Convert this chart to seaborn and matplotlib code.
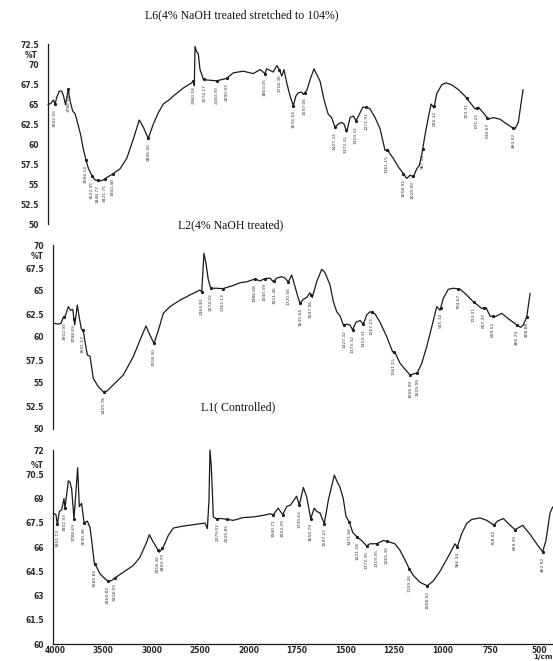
import numpy as np
import matplotlib
matplotlib.use("Agg")
import matplotlib.pyplot as plt
from matplotlib.ticker import MultipleLocator
import seaborn as sns

# ---------------- data (wavenumber 1/cm, %T) ----------------
l6_wn = [4017, 3985, 3958, 3941, 3920, 3895, 3869, 3851, 3827, 3797, 3778, 3749, 3724, 3688,
         3662, 3634, 3605, 3580, 3543, 3507, 3452, 3417, 3380, 3308, 3235, 3162, 3091, 3026,
         2982, 2928, 2873, 2819, 2765, 2692, 2656, 2547, 2456, 2439, 2428, 2420, 2402, 2385,
         2366, 2330, 2293, 2185, 2076, 2004, 1948, 1894, 1857, 1830, 1821, 1803, 1785, 1766,
         1752, 1739, 1727, 1712, 1694, 1676, 1662, 1649, 1631, 1622, 1603, 1585, 1564, 1549,
         1531, 1509, 1493, 1486, 1468, 1450, 1432, 1413, 1401, 1386, 1368, 1350, 1336, 1318,
         1299, 1278, 1260, 1232, 1205, 1178, 1160, 1155, 1133, 1106, 1079, 1060, 1042, 1024,
         1006, 992, 979, 961, 943, 928, 912, 897, 870, 847, 816, 780, 744, 717, 689, 671, 644,
         617, 590, 554, 517, 490, 472, 454, 436, 428]
l6_t = [64.9, 65.1, 65.5, 65.0, 65.9, 66.6, 66.6, 66.1, 64.9, 66.9, 65.4, 64.1, 63.8, 62.3,
        61.1, 59.4, 58.0, 57.0, 56.1, 55.5, 55.4, 55.5, 55.8, 56.3, 56.9, 58.2, 60.6, 63.0,
        62.1, 60.7, 62.5, 63.9, 65.0, 65.6, 66.0, 67.0, 67.65, 67.9, 67.3, 72.2, 71.5, 71.3,
        69.3, 68.1, 68.0, 67.9, 68.2, 68.9, 69.1, 68.8, 69.3, 68.8, 69.4, 69.2, 69.0, 69.8,
        69.3, 68.5, 69.3, 67.65, 66.0, 64.8, 66.0, 66.4, 66.5, 66.2, 66.7, 68.05, 69.4, 68.7,
        67.85, 65.5, 64.2, 63.7, 63.3, 62.1, 62.5, 62.7, 62.5, 61.5, 63.3, 63.5, 62.9, 63.7,
        64.6, 64.6, 64.4, 63.3, 61.9, 59.2, 59.3, 58.9, 58.2, 57.15, 56.3, 55.7, 56.1, 55.9,
        56.9, 57.3, 58.6, 61.1, 63.3, 65.0, 64.5, 66.3, 67.4, 67.65, 67.4, 66.8, 66.0, 65.2,
        64.4, 64.6, 63.9, 63.1, 63.3, 63.1, 62.5, 62.1, 61.9, 62.7, 65.6, 66.8]
l6_pk_wn = [3941, 3797, 3605, 3540, 3475, 3400, 3310, 2928, 2439, 2320, 2185, 2076, 1830, 1752,
            1676, 1613, 1450, 1390, 1336, 1280, 1169, 1078, 1028, 973, 910, 734, 680, 622, 481]
l6_pk_lbl = ["3902.93", "3786.18", "3566.14", "3522.35", "3448.77", "3421.75", "3402.48",
             "2895.00", "2360.18", "2274.17", "2160.30", "2090.03", "1863.05", "1718.36",
             "1635.64", "1597.06", "1427.32", "1373.32", "1319.31", "1271.91", "1161.15",
             "1058.92", "1029.99", "987.52", "945.12", "723.31", "671.25", "630.67", "460.02"]

l2_wn = [4017, 3963, 3934, 3909, 3891, 3855, 3830, 3808, 3786, 3758, 3737, 3715, 3694, 3675,
         3650, 3621, 3586, 3532, 3478, 3441, 3370, 3262, 3154, 3081, 3017, 2974, 2930, 2884,
         2830, 2758, 2650, 2542, 2434, 2415, 2391, 2369, 2344, 2318, 2253, 2189, 2074, 2002,
         1965, 1920, 1893, 1866, 1839, 1821, 1803, 1776, 1758, 1740, 1722, 1704, 1686, 1677,
         1659, 1641, 1623, 1611, 1587, 1560, 1542, 1515, 1497, 1479, 1461, 1443, 1425, 1407,
         1393, 1375, 1353, 1335, 1317, 1299, 1272, 1245, 1209, 1177, 1164, 1137, 1110, 1083,
         1062, 1044, 1020, 993, 966, 939, 921, 904, 877, 850, 813, 777, 742, 720, 696, 673,
         651, 624, 588, 553, 507, 486, 472, 453, 435]
l2_t = [61.49, 61.4, 61.5, 62.14, 62.2, 63.3, 62.9, 63.0, 61.3, 63.48, 62.1, 60.9, 60.7, 59.5,
        58.04, 57.9, 55.5, 54.6, 54.06, 54.1, 54.8, 55.87, 57.86, 59.67, 61.2, 60.2, 59.3, 60.7,
        62.57, 63.3, 64.0, 64.57, 65.1, 64.9, 69.1, 68.0, 66.2, 65.3, 65.3, 65.25, 65.6, 65.9,
        66.0, 66.3, 66.1, 66.35, 66.4, 66.0, 66.4, 66.56, 66.4, 66.0, 66.74, 65.47, 64.2, 63.66,
        64.1, 64.3, 64.8, 64.3, 66.0, 67.36, 67.0, 65.65, 63.84, 62.75, 62.3, 61.3, 61.4, 61.3,
        60.76, 61.6, 61.8, 61.4, 62.4, 62.75, 62.5, 61.6, 60.04, 58.4, 58.3, 57.14, 56.49, 55.87,
        56.0, 56.1, 57.14, 58.95, 61.1, 63.3, 62.9, 64.2, 65.18, 65.3, 65.2, 64.57, 63.84, 63.5,
        63.1, 63.2, 62.28, 62.2, 62.57, 62.0, 61.3, 61.05, 61.3, 62.2, 64.75]
l2_pk_wn = [3899, 3794, 3700, 3470, 2930, 2415, 2318, 2189, 1920, 1866, 1817, 1740, 1677, 1618,
            1439, 1393, 1335, 1290, 1170, 1083, 1044, 918, 822, 738, 684, 637, 507, 453]
l2_pk_lbl = ["3902.93", "3788.69", "3691.57", "3429.78", "2918.30", "2364.81", "2274.02",
             "2162.13", "1986.68", "1940.39", "1911.46", "1720.56", "1635.64", "1597.06",
             "1427.32", "1373.32", "1319.31", "1267.23", "1161.15", "1056.99", "1029.99",
             "945.12", "794.67", "723.31", "667.37", "609.51", "466.74", "408.88"]

l1_wn = [4018, 3990, 3976, 3955, 3931, 3907, 3897, 3862, 3845, 3828, 3804, 3766, 3749, 3725,
         3700, 3666, 3638, 3621, 3594, 3569, 3535, 3483, 3449, 3414, 3380, 3294, 3191, 3122,
         3053, 3026, 2984, 2922, 2881, 2829, 2778, 2691, 2571, 2450, 2426, 2409, 2399, 2385,
         2364, 2337, 2278, 2227, 2158, 2055, 1975, 1924, 1889, 1872, 1847, 1824, 1803, 1783,
         1766, 1752, 1738, 1717, 1700, 1679, 1661, 1648, 1631, 1609, 1588, 1557, 1545, 1528,
         1511, 1497, 1480, 1462, 1438, 1416, 1390, 1373, 1338, 1304, 1270, 1244, 1218, 1192,
         1170, 1149, 1115, 1077, 1046, 1011, 960, 934, 922, 900, 874, 848, 805, 770, 732, 715,
         684, 658, 624, 584, 547, 512, 481, 464, 443, 429]
l1_t = [68.1, 68.0, 67.4, 68.2, 68.3, 69.0, 68.4, 70.1, 70.0, 69.6, 67.75, 70.9, 68.5, 68.7,
        67.5, 67.6, 67.2, 66.4, 65.0, 64.75, 64.34, 64.03, 63.88, 63.93, 64.09, 64.44, 64.86,
        65.37, 66.3, 66.76, 66.3, 65.68, 66.0, 66.72, 67.17, 67.28, 67.38, 67.48, 67.14, 68.9,
        72.0, 70.96, 67.86, 67.76, 67.76, 67.71, 67.65, 67.82, 67.86, 67.96, 68.05, 68.0, 68.4,
        68.0, 68.5, 68.6, 68.9, 69.14, 68.6, 69.68, 69.1, 67.76, 68.4, 68.2, 68.1, 67.45, 68.9,
        70.45, 70.1, 69.7, 69.0, 67.9, 67.55, 66.9, 66.6, 66.4, 66.06, 66.2, 66.2, 66.4, 66.3,
        66.2, 65.8, 65.2, 64.65, 64.24, 63.82, 63.6, 63.9, 64.5, 65.6, 66.2, 66.0, 66.8, 67.45,
        67.7, 67.8, 67.65, 67.34, 67.6, 67.76, 67.45, 67.07, 67.34, 66.8, 66.2, 65.7, 66.4,
        68.1, 68.48]
l1_pk_wn = [3976, 3897, 3804, 3700, 3590, 3455, 3380, 2935, 2890, 2323, 2227, 1872, 1824, 1738,
            1679, 1609, 1480, 1438, 1390, 1338, 1287, 1170, 1077, 922, 732, 624, 481]
l1_pk_lbl = ["3951.13", "3902.93", "3788.69", "3690.38", "3585.85", "3450.82", "3418.93",
             "2918.30", "2850.79", "2279.03", "2225.85", "1940.71", "1903.29", "1720.62",
             "1650.79", "1597.27", "1471.68", "1421.58", "1373.35", "1319.35", "1265.35",
             "1159.26", "1058.92", "966.34", "758.02", "669.30", "462.92"]

titles = ["L6(4% NaOH treated stretched to 104%)", "L2(4% NaOH treated)", "L1( Controlled)"]
x_major = [4000, 3500, 3000, 2500, 2000, 1750, 1500, 1250, 1000, 750, 500]
x_unit = "1/cm"
y_label = "%T"

# ---------------- style ----------------
sns.set_style("white")
plt.rcParams["font.family"] = ["DejaVu Sans"]

W, H = 553, 661
fig = plt.figure(figsize=(W / 100, H / 100), dpi=100)
fig.patch.set_facecolor("white")
INK = "#1a1a1a"


def fwd(w):
    w = np.asarray(w, dtype=float)
    return np.where(w >= 2000, w - 4000.0, 2.0 * w - 6000.0)


def inv(t):
    t = np.asarray(t, dtype=float)
    return np.where(t >= -2000, t + 4000.0, (t + 6000.0) / 2.0)


XLIM = (4020.7, 427.5)


def make_axes(left, width, top, bottom):
    return fig.add_axes([left / W, 1 - bottom / H, width / W, (bottom - top) / H])


def draw_panel(ax, wn, t, ylim, ystep, yminor, pk_wn, pk_lbl, pct_frac, show_x):
    sns.lineplot(x=wn, y=t, ax=ax, color=INK, linewidth=0.9, sort=False, estimator=None)
    for ln in ax.lines:
        ln.set_clip_on(False)
    ax.set_xscale("function", functions=(fwd, inv))
    ax.set_xlim(*XLIM)
    ax.set_ylim(*ylim)
    ax.set_xlabel("")
    ax.set_ylabel("")
    ax.set_facecolor("none")
    yt = np.arange(ylim[0], ylim[1] + 1e-6, ystep)
    ax.set_yticks(yt, labels=["%g" % v for v in yt], fontsize=5.5, fontweight="bold", color="#2a2a2a")
    ax.yaxis.set_minor_locator(MultipleLocator(yminor))
    ax.tick_params(axis="y", which="major", direction="out", length=5, width=0.8, pad=1.5, color=INK)
    ax.tick_params(axis="y", which="minor", direction="out", length=2.5, width=0.6, color=INK)
    for s in ["top", "right"]:
        ax.spines[s].set_visible(False)
    ax.spines["left"].set_linewidth(0.9)
    ax.spines["left"].set_color(INK)
    if show_x:
        ax.set_xticks(x_major, labels=[str(v) for v in x_major], fontsize=5.5,
                      fontweight="bold", color="#2a2a2a")
        minor = [v for v in list(range(4000, 2000, -100)) + list(range(2000, 449, -50))
                 if v not in x_major]
        ax.set_xticks(minor, minor=True)
        ax.tick_params(axis="x", which="major", direction="in", length=3, width=0.8, pad=1.5, color=INK)
        ax.tick_params(axis="x", which="minor", direction="in", length=1.8, width=0.6, color=INK)
        ax.spines["bottom"].set_linewidth(0.9)
        ax.spines["bottom"].set_color(INK)
    else:
        ax.spines["bottom"].set_visible(False)
        ax.set_xticks([])
        ax.set_xticks([], minor=True)
    ax.annotate(y_label, xy=(0, pct_frac), xycoords="axes fraction", xytext=(-7, 0),
                textcoords="offset points", ha="right", va="center", fontsize=5.5,
                fontweight="bold", color="#2a2a2a")
    xs = np.asarray(wn, float)[::-1]
    ys = np.asarray(t, float)[::-1]
    for w, s in zip(pk_wn, pk_lbl):
        y = float(np.interp(w, xs, ys))
        ax.plot([w], [y], marker="o", ms=1.3, color=INK, clip_on=False)
        ax.annotate(s, xy=(w, y), xytext=(0, -3.5), textcoords="offset points", rotation=90,
                    ha="center", va="top", fontsize=3.2, color="#333333", annotation_clip=False,
                    arrowprops=dict(arrowstyle="-", lw=0.4, color="#333333", shrinkA=0, shrinkB=0))


ax1 = make_axes(47.7, 475.5, 44, 224)
draw_panel(ax1, l6_wn, l6_t, (50, 72.5), 2.5, 0.5, l6_pk_wn, l6_pk_lbl, 1 - 11.5 / 180, False)

ax2 = make_axes(53, 478.5, 245, 429)
draw_panel(ax2, l2_wn, l2_t, (50, 70), 2.5, 0.5, l2_pk_wn, l2_pk_lbl, 1 - 11.5 / 184, False)

ax3 = make_axes(53, 500, 450, 644)
draw_panel(ax3, l1_wn, l1_t, (60, 72), 1.5, 0.25, l1_pk_wn, l1_pk_lbl, 1 - 16 / 194, True)

for txt, (cx, cy) in zip(titles, [(242, 15), (231, 225), (238, 407)]):
    fig.text(cx / W, 1 - cy / H, txt, ha="center", va="center",
             family=["Liberation Serif", "DejaVu Serif"], fontsize=8.5, color="#111111")

fig.text(552.5 / W, 1 - 657.5 / H, x_unit, ha="right", va="center", fontsize=5.2,
         fontweight="bold", color="#2a2a2a")

fig.savefig("out.png", dpi=100, facecolor="white")
